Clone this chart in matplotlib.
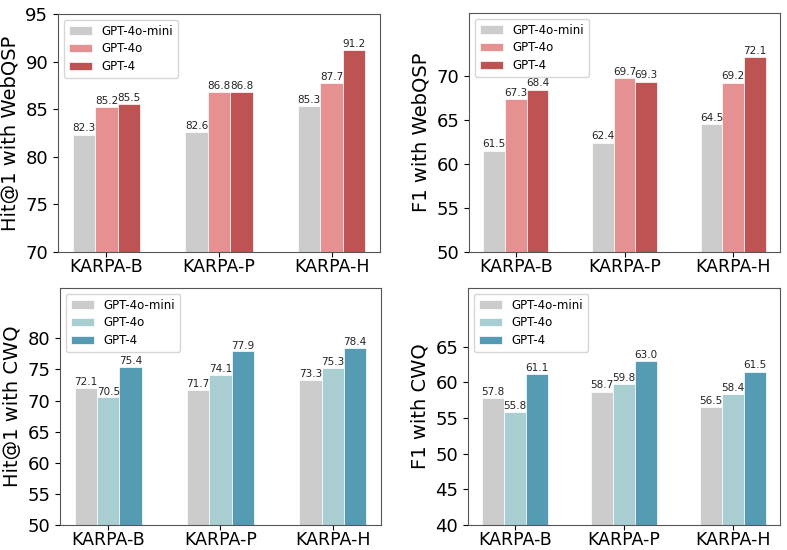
import matplotlib
matplotlib.use("Agg")
import matplotlib.pyplot as plt
import numpy as np

# Datos
METHODS = ["KARPA-B", "KARPA-P", "KARPA-H"]
MODELS = ["GPT-4o-mini", "GPT-4o", "GPT-4"]

hit_webqsp = {
    "GPT-4o-mini": [82.3, 82.6, 85.3],
    "GPT-4o": [85.2, 86.8, 87.7],
    "GPT-4": [85.5, 86.8, 91.2],
}
f1_webqsp = {
    "GPT-4o-mini": [61.5, 62.4, 64.5],
    "GPT-4o": [67.3, 69.7, 69.2],
    "GPT-4": [68.4, 69.3, 72.1],
}
hit_cwq = {
    "GPT-4o-mini": [72.1, 71.7, 73.3],
    "GPT-4o": [70.5, 74.1, 75.3],
    "GPT-4": [75.4, 77.9, 78.4],
}
f1_cwq = {
    "GPT-4o-mini": [57.8, 58.7, 56.5],
    "GPT-4o": [55.8, 59.8, 58.4],
    "GPT-4": [61.1, 63.0, 61.5],
}

RED_COLORS = ["#cccccc", "#e69191", "#bd5353"]
BLUE_COLORS = ["#cccccc", "#a8ced2", "#569bb4"]

# (datos, ylabel, colores, ylim, yticks, posicion en px [left, top, right, bottom])
PANELS = [
    (hit_webqsp, "Hit@1 with WebQSP", RED_COLORS, (70, 95), np.arange(70, 96, 5), (58, 14, 380, 252)),
    (f1_webqsp, "F1 with WebQSP", RED_COLORS, (50, 77.1), np.arange(50, 71, 5), (469, 13, 780, 252)),
    (hit_cwq, "Hit@1 with CWQ", BLUE_COLORS, (50, 88.1), np.arange(50, 81, 5), (60, 288, 381, 525)),
    (f1_cwq, "F1 with CWQ", BLUE_COLORS, (40, 73.2), np.arange(40, 66, 5), (468, 288, 780, 525)),
]

W, H = 787, 550
fig = plt.figure(figsize=(W / 100, H / 100), dpi=100)

width = 0.2
x = np.arange(len(METHODS))

for data, ylabel, colors, ylim, yticks, (l, t, r, b) in PANELS:
    ax = fig.add_axes([l / W, 1 - b / H, (r - l) / W, (b - t) / H])
    for i, model in enumerate(MODELS):
        vals = data[model]
        bars = ax.bar(x + (i - 1) * width, vals, width, color=colors[i],
                      edgecolor="white", linewidth=0.5, label=model)
        for bar, v in zip(bars, vals):
            ax.text(bar.get_x() + bar.get_width() / 2, v + 0.15, f"{v:.1f}",
                    ha="center", va="bottom", fontsize=7.5, color="#222222")
    ax.set_ylim(*ylim)
    ax.set_yticks(yticks)
    ax.set_xticks(x)
    ax.set_xticklabels(METHODS, fontsize=12.5)
    ax.tick_params(axis="x", pad=0.5)
    ax.tick_params(axis="y", labelsize=13)
    ax.set_ylabel(ylabel, fontsize=14)
    for sp in ax.spines.values():
        sp.set_color("#555555")
    ax.legend(loc="upper left", fontsize=8.5, handlelength=2.0, labelspacing=0.4)

fig.savefig("out.png", dpi=100)
